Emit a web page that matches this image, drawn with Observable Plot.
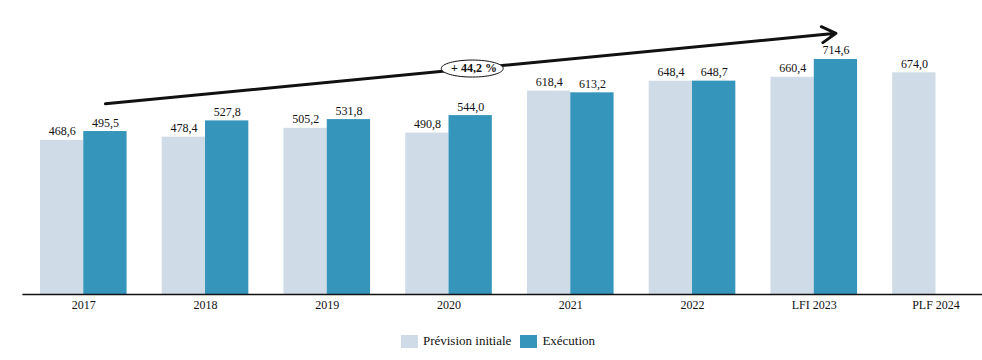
<!DOCTYPE html>
<html><head><meta charset="utf-8">
<script src="https://cdn.jsdelivr.net/npm/d3@7"></script>
<script src="https://cdn.jsdelivr.net/npm/@observablehq/plot@0.6"></script>
<style>
body{margin:0;background:#fff;overflow:hidden;font-family:"Liberation Serif",serif;}
#chart{position:relative;width:982px;height:360px;overflow:hidden;}
#plot svg text{font-family:"Liberation Serif",serif !important;}
#legend{position:absolute;top:334px;left:0;width:982px;padding-left:14px;box-sizing:border-box;display:flex;justify-content:center;align-items:center;font-family:"Liberation Serif",serif;font-size:13px;color:#111;line-height:14px;}
#legend .item{display:flex;align-items:center;margin-right:9px;}
#legend .item:last-child{margin-right:0;}
#legend .sw{width:17px;height:13px;margin-right:5px;}
</style></head><body><div id="chart"><div id="plot"></div><div id="legend"></div></div>
<script>
const categories = ["2017","2018","2019","2020","2021","2022","LFI 2023","PLF 2024"];
const prevision = [468.6, 478.4, 505.2, 490.8, 618.4, 648.4, 660.4, 674.0];
const execution = [495.5, 527.8, 531.8, 544.0, 613.2, 648.7, 714.6, null];
const series = ["Prévision initiale", "Exécution"];
const colors = ["#cfdbe6", "#3595ba"];
// trend annotation (from 2017 execution to LFI 2023 execution)
const trendArrow = [{x1: "2017", y1: 580, x2: "LFI 2023", y2: 794}];
const trendLabel = [{x: "2020", y: 687, text: "+ 44,2 %"}];

const prevRows = categories.map((c, i) => ({cat: c, value: prevision[i]}));
const execRows = categories.map((c, i) => ({cat: c, value: execution[i]})).filter(d => d.value != null);
const fmt = v => v.toFixed(1).replace(".", ",");

const half = 121.74 / 2, barW = 43.3, off = barW / 2;
const FONT = "Liberation Serif";

const ellipse = {
  draw(ctx) {
    const rx = 31, ry = 8.5, k = 0.5523;
    ctx.moveTo(rx, 0);
    ctx.bezierCurveTo(rx, ry * k, rx * k, ry, 0, ry);
    ctx.bezierCurveTo(-rx * k, ry, -rx, ry * k, -rx, 0);
    ctx.bezierCurveTo(-rx, -ry * k, -rx * k, -ry, 0, -ry);
    ctx.bezierCurveTo(rx * k, -ry, rx, -ry * k, rx, 0);
    ctx.closePath();
  }
};

const chart = Plot.plot({
  width: 982,
  height: 320,
  marginLeft: 22.4,
  marginRight: -14.4,
  marginTop: 24.3,
  marginBottom: 26,
  style: {fontFamily: "'Liberation Serif', serif", fontSize: "12px", color: "#111", background: "white", overflow: "visible"},
  x: {domain: categories, padding: 0, round: false, tickSize: 0, tickPadding: 6, label: null},
  y: {domain: [0, 820], axis: null},
  marks: [
    Plot.barY(prevRows, {x: "cat", y: "value", fill: colors[0], insetLeft: half - barW, insetRight: half}),
    Plot.barY(execRows, {x: "cat", y: "value", fill: colors[1], insetLeft: half, insetRight: half - barW}),
    Plot.text(prevRows, {x: "cat", y: "value", text: d => fmt(d.value), dx: -off, dy: -5, lineAnchor: "bottom", fill: "#111", fontFamily: FONT, fontSize: 12}),
    Plot.text(execRows, {x: "cat", y: "value", text: d => fmt(d.value), dx: off, dy: -5, lineAnchor: "bottom", fill: "#111", fontFamily: FONT, fontSize: 12}),
    Plot.ruleY([0], {stroke: "#111", strokeWidth: 1.3}),
    Plot.arrow(trendArrow, {x1: "x1", y1: "y1", x2: "x2", y2: "y2", dx: off, stroke: "#111", strokeWidth: 3, headLength: 8, headAngle: 60}),
    Plot.dot(trendLabel, {x: "x", y: "y", dx: 23.2, symbol: ellipse, r: 5, fill: "white", stroke: "#111", strokeWidth: 1}),
    Plot.text(trendLabel, {x: "x", y: "y", dx: 25, text: "text", fontWeight: "bold", fill: "#111", fontFamily: FONT, fontSize: 12})
  ]
});
document.getElementById("plot").appendChild(chart);

const legend = d3.select("#legend");
series.forEach((s, i) => {
  const item = legend.append("div").attr("class", "item");
  item.append("div").attr("class", "sw").style("background", colors[i]);
  item.append("span").text(s);
});
</script>
</body></html>
